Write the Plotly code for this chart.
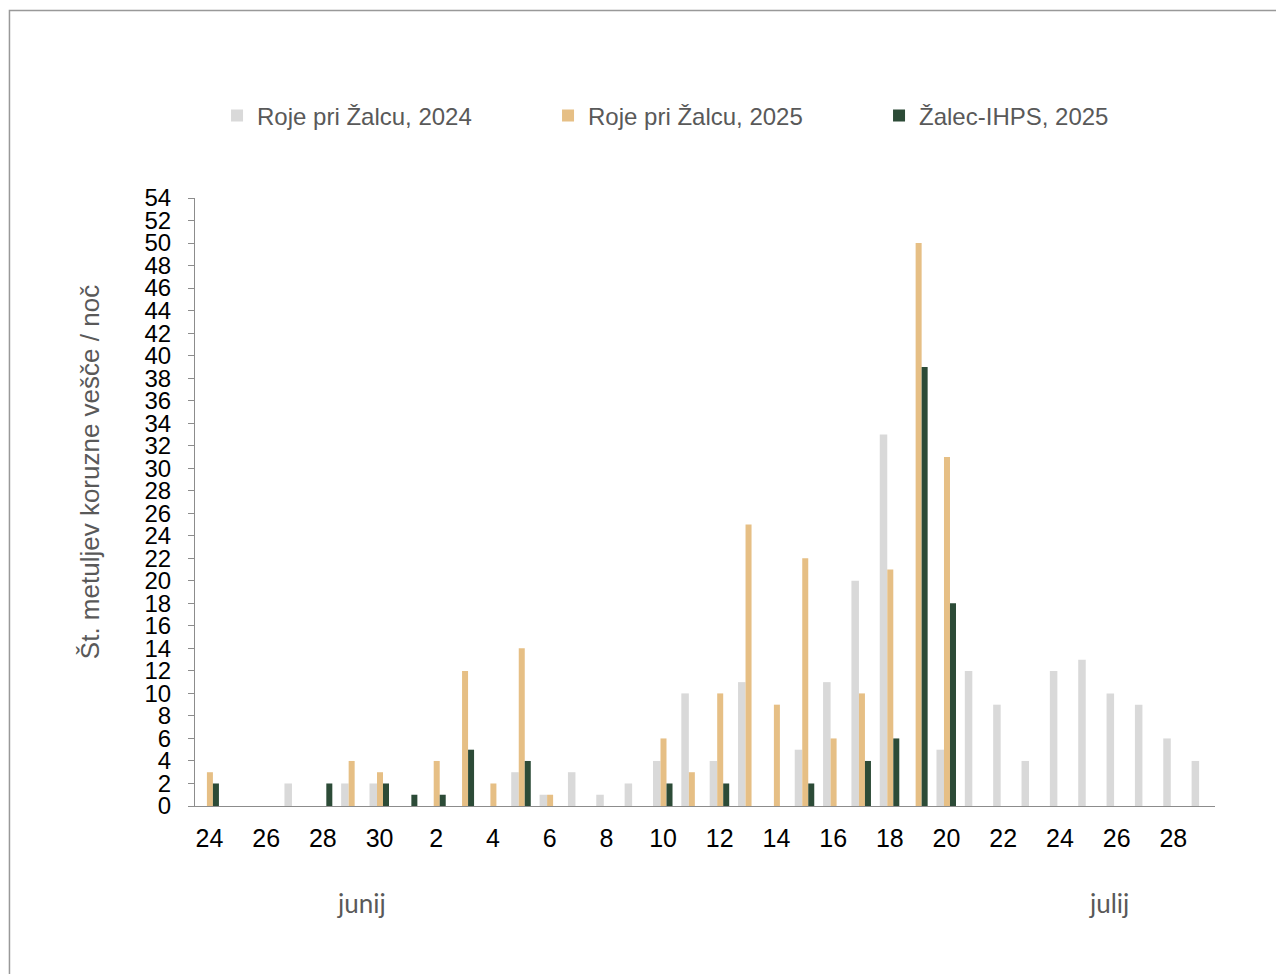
import plotly.graph_objects as go

# Categories: nights from 24 June to 29 July
dates = ["24.6.", "25.6.", "26.6.", "27.6.", "28.6.", "29.6.", "30.6.",
         "1.7.", "2.7.", "3.7.", "4.7.", "5.7.", "6.7.", "7.7.", "8.7.", "9.7.",
         "10.7.", "11.7.", "12.7.", "13.7.", "14.7.", "15.7.", "16.7.", "17.7.",
         "18.7.", "19.7.", "20.7.", "21.7.", "22.7.", "23.7.", "24.7.", "25.7.",
         "26.7.", "27.7.", "28.7.", "29.7."]

roje_2024 = [0, 0, 0, 2, 0, 2, 2,
             0, 0, 0, 0, 3, 1, 3, 1, 2,
             4, 10, 4, 11, 0, 5, 11, 20,
             33, 0, 5, 12, 9, 4, 12, 13,
             10, 9, 6, 4]
roje_2025 = [3, 0, 0, 0, 0, 4, 3,
             0, 4, 12, 2, 14, 1, 0, 0, 0,
             6, 3, 10, 25, 9, 22, 6, 10,
             21, 50, 31, None, None, None, None, None,
             None, None, None, None]
zalec_2025 = [2, 0, 0, 0, 2, 0, 2,
              1, 1, 5, 0, 4, 0, 0, 0, 0,
              2, 0, 2, 0, 0, 2, 0, 4,
              6, 39, 18, None, None, None, None, None,
              None, None, None, None]

tick_vals = dates[::2]
tick_text = ["24", "26", "28", "30", "2", "4", "6", "8", "10", "12", "14",
             "16", "18", "20", "22", "24", "26", "28"]
month_labels = ["junij", "julij"]
series_names = ["Roje pri Žalcu, 2024", "Roje pri Žalcu, 2025", "Žalec-IHPS, 2025"]
y_title = "Št. metuljev koruzne vešče / noč"

GREY = "#D9D9D9"
TAN = "#E6BF85"
GREEN = "#2C4B37"
TXT = "#595959"
FONT = "Liberation Sans, Arial, sans-serif"

fig = go.Figure()
fig.add_trace(go.Bar(x=dates, y=roje_2024, name=series_names[0],
                     marker=dict(color=GREY, line=dict(width=0)),
                     offset=-0.355, width=0.265))
fig.add_trace(go.Bar(x=dates, y=roje_2025, name=series_names[1],
                     marker=dict(color=TAN, line=dict(width=0)),
                     offset=-0.09, width=0.212))
fig.add_trace(go.Bar(x=dates, y=zalec_2025, name=series_names[2],
                     marker=dict(color=GREEN, line=dict(width=0)),
                     offset=0.122, width=0.212))

fig.update_layout(
    width=1276, height=966,
    margin=dict(l=187, r=69, t=190, b=168),
    paper_bgcolor="white", plot_bgcolor="white",
    barmode="overlay",
    font=dict(family=FONT, size=25, color="black"),
    showlegend=True,
    legend=dict(orientation="h", x=0.0216, xanchor="left", y=1.1349, yanchor="middle",
                font=dict(family=FONT, size=24, color=TXT),
                entrywidth=286, entrywidthmode="pixels", itemwidth=30,
                bgcolor="rgba(0,0,0,0)", traceorder="normal"),
    xaxis=dict(type="category", range=[-0.51, 35.47],
               tickmode="array", tickvals=tick_vals, ticktext=tick_text,
               showline=True, linecolor="#8C8C8C", linewidth=1,
               ticks="", ticklabelstandoff=10,
               tickfont=dict(family=FONT, size=25, color="black"),
               showgrid=False, zeroline=False, fixedrange=True),
    yaxis=dict(range=[0, 54], dtick=2, tick0=0,
               showline=True, linecolor="#8C8C8C", linewidth=1,
               ticks="outside", ticklen=6, tickcolor="#8C8C8C", tickwidth=1,
               ticklabelstandoff=12,
               tickfont=dict(family=FONT, size=24, color="black"),
               showgrid=False, zeroline=False, fixedrange=True),
    annotations=[
        dict(text=y_title, xref="paper", yref="paper", x=-0.103, y=0.549,
             textangle=-90, showarrow=False, xanchor="center", yanchor="middle",
             font=dict(family=FONT, size=26, color=TXT)),
        dict(text=month_labels[0], xref="paper", yref="paper", x=0.1637, y=-0.1595,
             showarrow=False, xanchor="center", yanchor="middle",
             font=dict(family="Lato, sans-serif", size=26, color=TXT)),
        dict(text=month_labels[1], xref="paper", yref="paper", x=0.896, y=-0.1595,
             showarrow=False, xanchor="center", yanchor="middle",
             font=dict(family="Lato, sans-serif", size=26, color=TXT)),
    ],
    shapes=[dict(type="rect", xref="paper", yref="paper",
                 x0=-0.1819, x1=2, y0=-1, y1=1.3084,
                 line=dict(color="#999999", width=1.5), fillcolor="rgba(0,0,0,0)",
                 layer="below")],
)

fig.write_html("out.html")
